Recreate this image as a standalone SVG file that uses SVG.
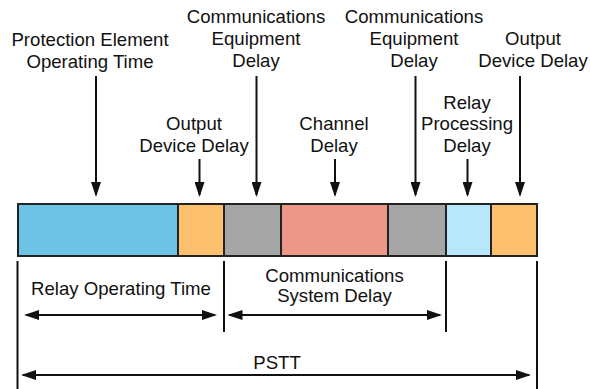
<svg xmlns="http://www.w3.org/2000/svg" width="590" height="389" viewBox="0 0 590 389">
<style>
text{font-family:"Liberation Sans",Arial,sans-serif;font-size:18.6px;fill:#111;text-anchor:middle}
.seg{stroke:#222;stroke-width:2}
.arr{stroke:#111;stroke-width:2;fill:none}
.tick{stroke:#111;stroke-width:2}
</style>
<defs>
<marker id="ah" markerUnits="userSpaceOnUse" markerWidth="15" markerHeight="10" refX="13" refY="5" orient="auto-start-reverse">
<path d="M0,0 L15,5 L0,10 z" fill="#111"/>
</marker>
</defs>
<rect width="590" height="389" fill="#fff"/>
<g id="bar">
<rect id="seg-protection" class="seg" x="18" y="204" width="160" height="52" fill="#6CC3E6"/>
<rect id="seg-output1" class="seg" x="178" y="204" width="46" height="52" fill="#FDC06F"/>
<rect id="seg-comm1" class="seg" x="224" y="204" width="57" height="52" fill="#A6A6A6"/>
<rect id="seg-channel" class="seg" x="281" y="204" width="107" height="52" fill="#EC9788"/>
<rect id="seg-comm2" class="seg" x="388" y="204" width="58" height="52" fill="#A6A6A6"/>
<rect id="seg-relayproc" class="seg" x="446" y="204" width="45" height="52" fill="#B8E6FA"/>
<rect id="seg-output2" class="seg" x="491" y="204" width="46" height="52" fill="#FDC06F"/>
</g>
<g id="label-protection"><text x="90" y="46">Protection Element</text><text x="90" y="67.5">Operating Time</text></g>
<g id="label-output1"><text x="194" y="130">Output</text><text x="194" y="152">Device Delay</text></g>
<g id="label-comm1"><text x="256" y="23">Communications</text><text x="256" y="45">Equipment</text><text x="256" y="67">Delay</text></g>
<g id="label-channel"><text x="334" y="130">Channel</text><text x="334" y="152">Delay</text></g>
<g id="label-comm2"><text x="414" y="23">Communications</text><text x="414" y="45">Equipment</text><text x="414" y="67">Delay</text></g>
<g id="label-relayproc"><text x="467" y="108.5">Relay</text><text x="467" y="130">Processing</text><text x="467" y="152">Delay</text></g>
<g id="label-output2"><text x="533" y="45">Output</text><text x="533" y="67">Device Delay</text></g>
<g id="label-relayop"><text x="121" y="295">Relay Operating Time</text></g>
<g id="label-commsys"><text x="334.5" y="282">Communications</text><text x="334.5" y="302">System Delay</text></g>
<g id="label-pstt"><text x="277" y="369">PSTT</text></g>
<g id="connectors">
<line class="arr" x1="96" y1="76" x2="96" y2="195" marker-end="url(#ah)"/>
<line class="arr" x1="199.5" y1="159" x2="199.5" y2="195" marker-end="url(#ah)"/>
<line class="arr" x1="256.5" y1="76" x2="256.5" y2="195" marker-end="url(#ah)"/>
<line class="arr" x1="335" y1="159" x2="335" y2="195" marker-end="url(#ah)"/>
<line class="arr" x1="415.5" y1="76" x2="415.5" y2="195" marker-end="url(#ah)"/>
<line class="arr" x1="467.5" y1="159" x2="467.5" y2="195" marker-end="url(#ah)"/>
<line class="arr" x1="520" y1="76" x2="520" y2="195" marker-end="url(#ah)"/>
<line class="tick" x1="17.5" y1="261" x2="17.5" y2="389"/>
<line class="tick" x1="224" y1="261" x2="224" y2="332"/>
<line class="tick" x1="446" y1="261" x2="446" y2="332"/>
<line class="tick" x1="537" y1="261" x2="537" y2="389"/>
<line class="arr" x1="26" y1="315" x2="215" y2="315" marker-start="url(#ah)" marker-end="url(#ah)"/>
<line class="arr" x1="229.5" y1="315" x2="440" y2="315" marker-start="url(#ah)" marker-end="url(#ah)"/>
<line class="arr" x1="23" y1="375" x2="529" y2="375" marker-start="url(#ah)" marker-end="url(#ah)"/>
</g>
</svg>
